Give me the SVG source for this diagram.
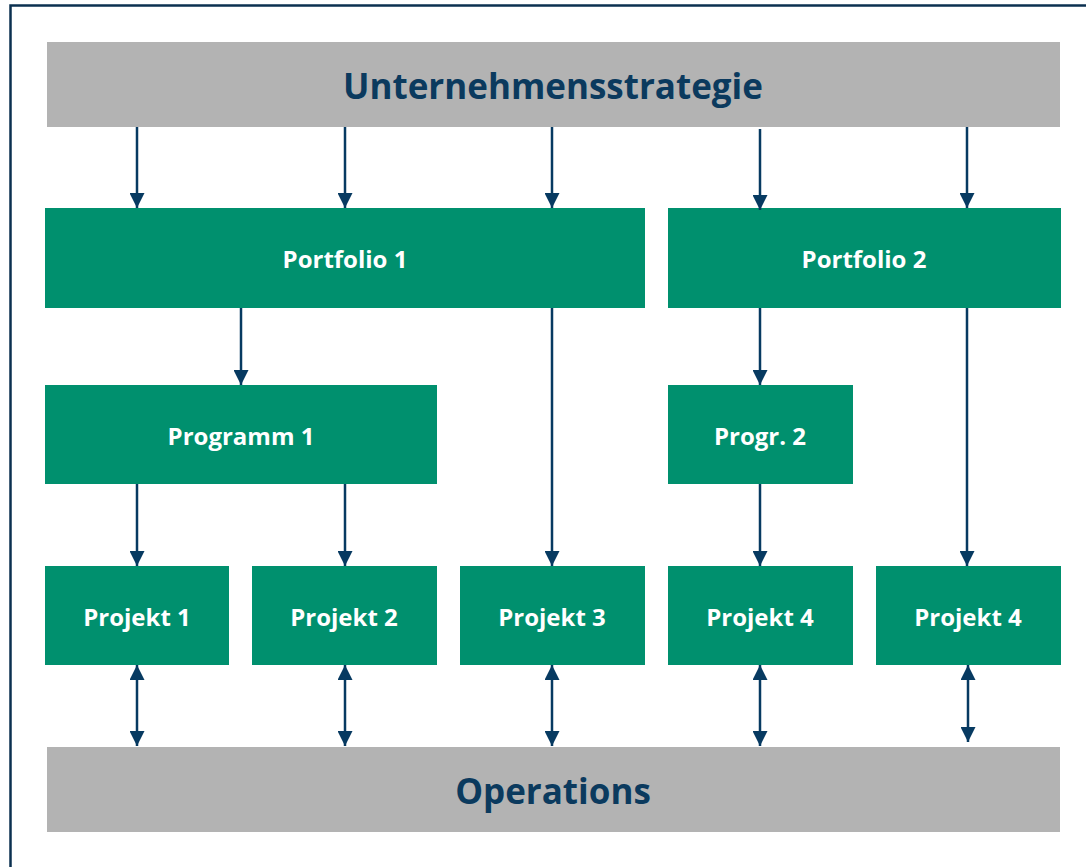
<svg xmlns="http://www.w3.org/2000/svg" width="1086" height="867" viewBox="0 0 1086 867">
<defs>
<style>
.bar{fill:#b3b3b3}
.box{fill:#00906e}
.t{font-family:"Open Sans","Liberation Sans",sans-serif;font-weight:bold;fill:#fff;font-size:24px;text-anchor:middle;dominant-baseline:central}
.h{font-family:"Open Sans","Liberation Sans",sans-serif;font-weight:bold;fill:#0b3a5e;font-size:35px;text-anchor:middle;dominant-baseline:central}
.c{stroke:#073a61;stroke-width:2.5;fill:none}
</style>
<marker id="ah" viewBox="0 0 10 10" refX="10" refY="5" markerWidth="6" markerHeight="6" markerUnits="strokeWidth" orient="auto-start-reverse">
<path d="M0,0 L10,5 L0,10 z" fill="#073a61"/>
</marker>
</defs>
<rect width="1086" height="867" fill="#fff"/>
<rect x="10.5" y="5.5" width="1090" height="880" fill="none" stroke="#0b3050" stroke-width="2.5"/>
<g id="strategie"><rect class="bar" x="47" y="42" width="1013" height="85"/><text class="h" x="553" y="85">Unternehmensstrategie</text></g>
<g id="operations"><rect class="bar" x="47" y="747" width="1013" height="85"/><text class="h" x="553" y="790">Operations</text></g>
<g id="portfolio1"><rect class="box" x="45" y="208" width="600" height="100"/><text class="t" x="345" y="258">Portfolio 1</text></g>
<g id="portfolio2"><rect class="box" x="668" y="208" width="393" height="100"/><text class="t" x="864" y="258">Portfolio 2</text></g>
<g id="programm1"><rect class="box" x="45" y="385" width="392" height="99"/><text class="t" x="241" y="435">Programm 1</text></g>
<g id="progr2"><rect class="box" x="668" y="385" width="185" height="99"/><text class="t" x="760" y="435">Progr. 2</text></g>
<g id="projekt1"><rect class="box" x="45" y="566" width="184" height="99"/><text class="t" x="137" y="616">Projekt 1</text></g>
<g id="projekt2"><rect class="box" x="252" y="566" width="185" height="99"/><text class="t" x="344" y="616">Projekt 2</text></g>
<g id="projekt3"><rect class="box" x="460" y="566" width="185" height="99"/><text class="t" x="552" y="616">Projekt 3</text></g>
<g id="projekt4a"><rect class="box" x="668" y="566" width="185" height="99"/><text class="t" x="760" y="616">Projekt 4</text></g>
<g id="projekt4b"><rect class="box" x="876" y="566" width="185" height="99"/><text class="t" x="968" y="616">Projekt 4</text></g>
<g id="connectors">
<line class="c" x1="137" y1="127" x2="137" y2="208" marker-end="url(#ah)"/>
<line class="c" x1="345" y1="127" x2="345" y2="208" marker-end="url(#ah)"/>
<line class="c" x1="552" y1="127" x2="552" y2="208" marker-end="url(#ah)"/>
<line class="c" x1="760" y1="129" x2="760" y2="210" marker-end="url(#ah)"/>
<line class="c" x1="967" y1="127" x2="967" y2="208" marker-end="url(#ah)"/>
<line class="c" x1="241" y1="308" x2="241" y2="385" marker-end="url(#ah)"/>
<line class="c" x1="552" y1="308" x2="552" y2="566" marker-end="url(#ah)"/>
<line class="c" x1="760" y1="308" x2="760" y2="385" marker-end="url(#ah)"/>
<line class="c" x1="967" y1="308" x2="967" y2="566" marker-end="url(#ah)"/>
<line class="c" x1="137" y1="484" x2="137" y2="566" marker-end="url(#ah)"/>
<line class="c" x1="345" y1="484" x2="345" y2="566" marker-end="url(#ah)"/>
<line class="c" x1="760" y1="484" x2="760" y2="566" marker-end="url(#ah)"/>
<line class="c" x1="137" y1="665" x2="137" y2="746" marker-start="url(#ah)" marker-end="url(#ah)"/>
<line class="c" x1="345" y1="665" x2="345" y2="746" marker-start="url(#ah)" marker-end="url(#ah)"/>
<line class="c" x1="552" y1="665" x2="552" y2="746" marker-start="url(#ah)" marker-end="url(#ah)"/>
<line class="c" x1="760" y1="665" x2="760" y2="746" marker-start="url(#ah)" marker-end="url(#ah)"/>
<line class="c" x1="968" y1="665" x2="968" y2="742" marker-start="url(#ah)" marker-end="url(#ah)"/>
</g>
</svg>
